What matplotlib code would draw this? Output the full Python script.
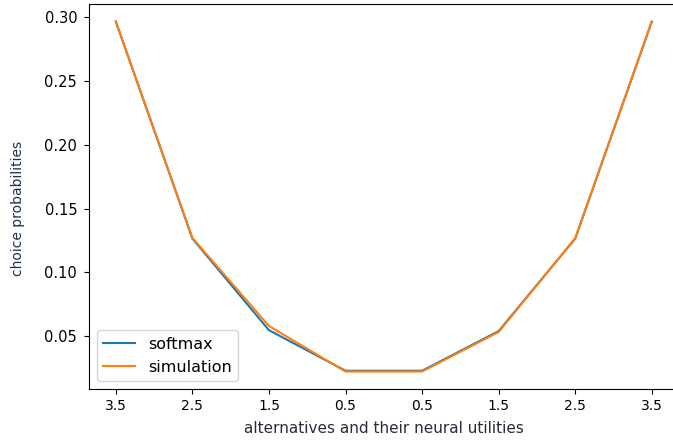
import matplotlib
matplotlib.use("Agg")
import matplotlib.pyplot as plt
import numpy as np

tick_labels = ["3.5", "2.5", "1.5", "0.5", "0.5", "1.5", "2.5", "3.5"]
softmax = [0.2966, 0.1265, 0.0547, 0.0229, 0.0229, 0.0540, 0.1265, 0.2966]
simulation = [0.2966, 0.1270, 0.0580, 0.0223, 0.0223, 0.0533, 0.1268, 0.2966]

fig = plt.figure(figsize=(6.73, 4.45), dpi=100)
ax = fig.add_axes([0.1323, 0.1258, 0.876, 0.865])
x = np.arange(len(tick_labels))
ax.plot(x, softmax, color="#1f77b4", label="softmax", lw=1.5)
ax.plot(x, simulation, color="#ff7f0e", label="simulation", lw=1.5)
ax.set_xticks(x)
ax.set_xticklabels(tick_labels)
ax.set_yticks([0.05, 0.10, 0.15, 0.20, 0.25, 0.30])
ax.tick_params(axis="y", labelsize=10.5, pad=5)
ax.set_xlabel("alternatives and their neural utilities", color="#2a2a3a",
              fontsize=11, labelpad=6)
ax.set_ylabel("choice probabilities", color="#1f2f4f", fontsize=10)
ax.yaxis.set_label_coords(-0.108, 0.47)
ax.legend(loc="lower left", fontsize=11.5)
fig.savefig("out.png", dpi=100)
